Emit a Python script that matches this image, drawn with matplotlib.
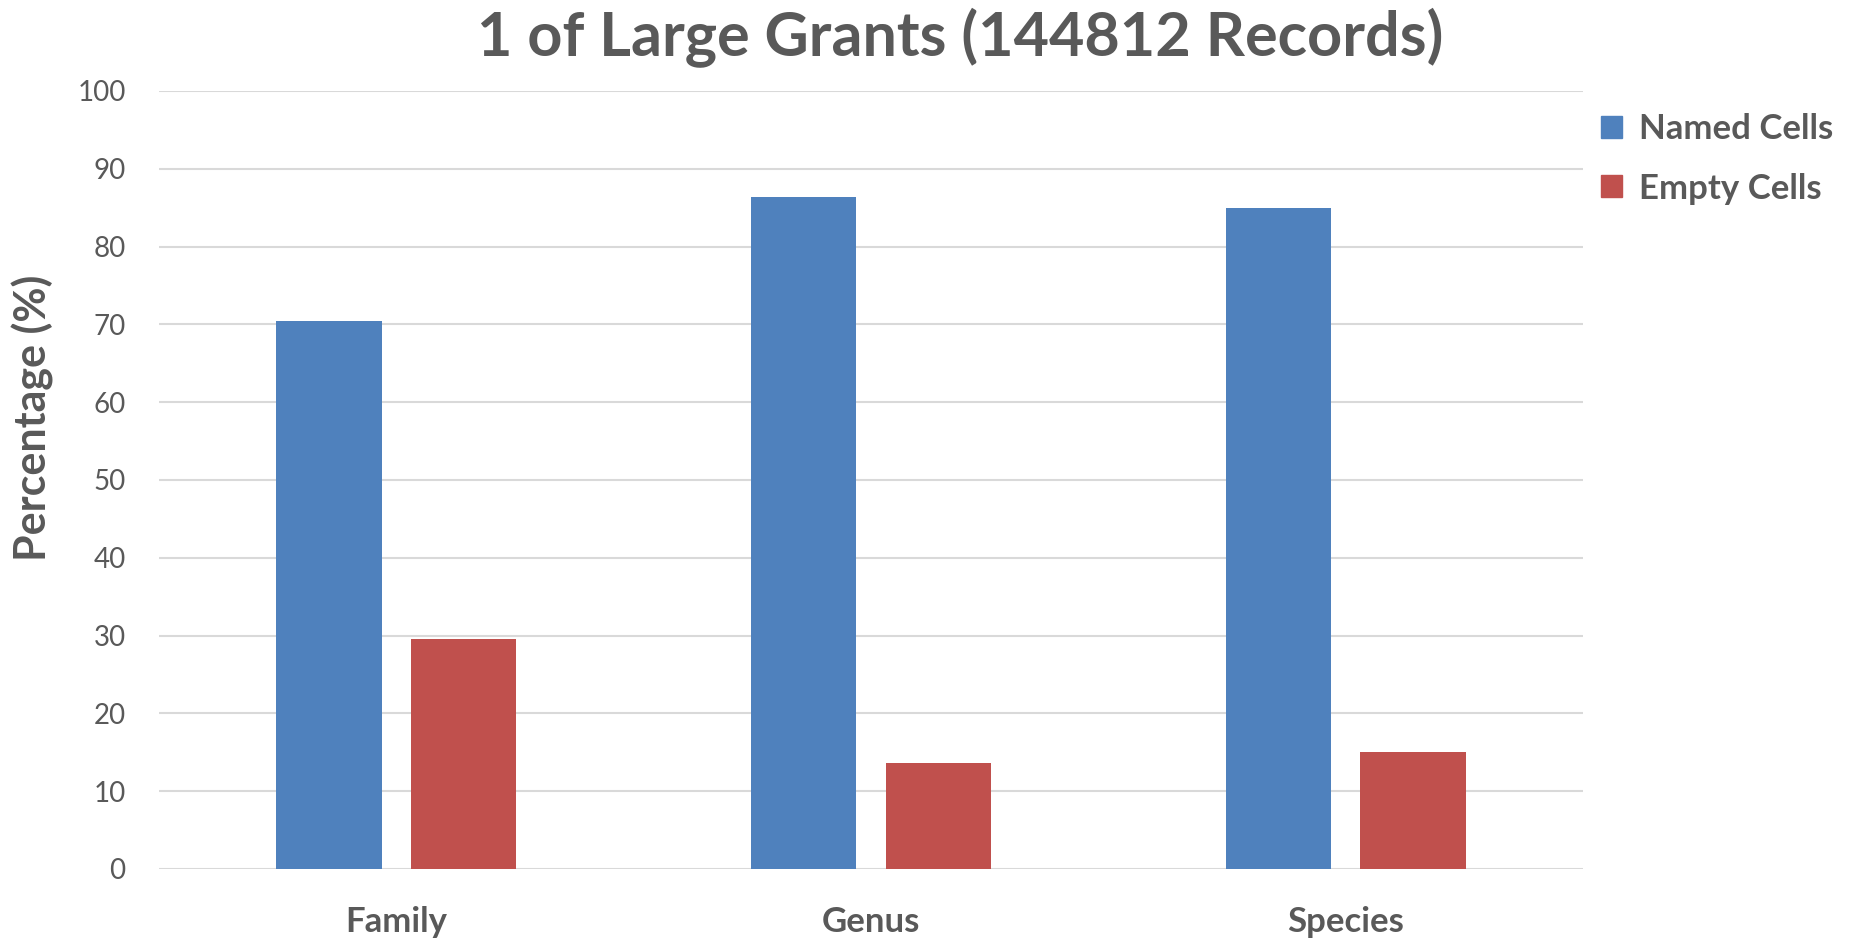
import numpy as np
import matplotlib.pyplot as plt
from matplotlib.patches import Patch

categories = ["Family", "Genus", "Species"]
named_cells = [70.4, 86.4, 85.0]
empty_cells = [29.6, 13.6, 15.0]
y_ticks = [0, 10, 20, 30, 40, 50, 60, 70, 80, 90, 100]

blue = '#4F81BD'
red = '#C0504D'
grey = '#595959'

plt.rcParams['font.family'] = ['Lato', 'DejaVu Sans']

fig = plt.figure(figsize=(18.58, 9.38), dpi=100)
ax = fig.add_axes([0.0856, 0.0736, 0.7664, 0.8294])

x = np.arange(len(categories))
w = 0.222
ax.bar(x - 0.142, named_cells, width=w, color=blue, zorder=3)
ax.bar(x + 0.142, empty_cells, width=w, color=red, zorder=3)

ax.set_xlim(-0.5, 2.5)
ax.set_ylim(0, 100)
ax.set_yticks(y_ticks)
ax.tick_params(axis='y', length=0, labelsize=20, labelcolor=grey, pad=24)
ax.tick_params(axis='x', length=0, labelsize=25, labelcolor=grey, pad=27)
ax.set_xticks(x)
ax.set_xticklabels(categories, fontweight='bold')
ax.yaxis.grid(True, color='#D9D9D9', linewidth=1.5, zorder=0)
for s in ax.spines.values():
    s.set_visible(False)

ax.set_ylabel('Percentage (%)', fontsize=31, fontweight='bold', color=grey)
ax.yaxis.set_label_coords(-0.074, 0.58)

fig.text(0.517, 0.96, '1 of Large Grants (144812 Records)', ha='center', va='center',
         fontsize=44, fontweight='bold', color=grey)

handles = [Patch(color=blue, label='Named Cells'), Patch(color=red, label='Empty Cells')]
leg = fig.legend(handles=handles, loc='upper left', bbox_to_anchor=(0.845, 0.913),
                 frameon=False, fontsize=25, handlelength=0.6, handleheight=0.6,
                 handletextpad=0.5, labelspacing=0.8)
for t in leg.get_texts():
    t.set_fontweight('bold')
    t.set_color(grey)

fig.savefig('out.png')
